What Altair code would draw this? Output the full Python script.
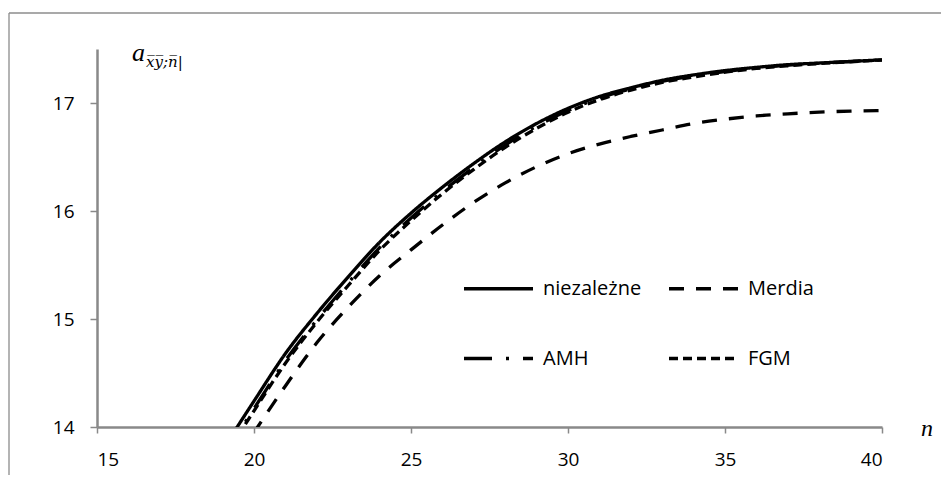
import altair as alt
import pandas as pd

# ---- data ----
n_values = list(range(19, 41))
niezalezne = [13.79, 14.24, 14.68, 15.05, 15.39, 15.71, 15.98, 16.22, 16.44, 16.64, 16.81,
              16.95, 17.06, 17.14, 17.21, 17.26, 17.30, 17.33, 17.355, 17.37, 17.385, 17.40]
merdia = [13.52, 13.95, 14.38, 14.78, 15.11, 15.40, 15.64, 15.87, 16.08, 16.26, 16.41,
          16.53, 16.62, 16.69, 16.75, 16.81, 16.85, 16.88, 16.90, 16.915, 16.925, 16.93]
amh = [13.72, 14.17, 14.615, 14.99, 15.335, 15.66, 15.935, 16.18, 16.405, 16.61, 16.785,
       16.93, 17.045, 17.13, 17.20, 17.25, 17.29, 17.325, 17.35, 17.368, 17.384, 17.40]
fgm = [13.70, 14.15, 14.59, 14.97, 15.31, 15.635, 15.91, 16.16, 16.385, 16.59, 16.765,
       16.915, 17.03, 17.12, 17.19, 17.24, 17.285, 17.32, 17.345, 17.365, 17.382, 17.398]

series_names = ["niezależne", "Merdia", "AMH", "FGM"]
series_values = [niezalezne, merdia, amh, fgm]
x_ticks = [15, 20, 25, 30, 35, 40]
y_ticks = [14, 15, 16, 17]

rows = []
for name, vals in zip(series_names, series_values):
    for n, v in zip(n_values, vals):
        rows.append({"n": n, "value": v, "series": name})
df = pd.DataFrame(rows)

AXIS_GRAY = "#898989"
FONT = "Open Sans"

lines = alt.Chart(df).mark_line(
    clip=True, strokeWidth=3.3, color="black", interpolate="monotone"
).encode(
    x=alt.X("n:Q", scale=alt.Scale(domain=[15, 40], nice=False, zero=False),
            axis=alt.Axis(values=x_ticks, title=None, grid=False, domainColor=AXIS_GRAY,
                          domainWidth=2.5, tickColor=AXIS_GRAY, tickWidth=1.5, tickSize=6,
                          labelFont=FONT, labelFontSize=19, labelColor="black",
                          labelPadding=17)),
    y=alt.Y("value:Q", scale=alt.Scale(domain=[14, 17.5], nice=False, zero=False),
            axis=alt.Axis(values=y_ticks, title=None, grid=False, domainColor=AXIS_GRAY,
                          domainWidth=2.5, tickColor=AXIS_GRAY, tickWidth=1.5, tickSize=7,
                          labelFont=FONT, labelFontSize=19, labelColor="black",
                          labelPadding=16)),
    strokeDash=alt.StrokeDash(
        "series:N",
        scale=alt.Scale(domain=series_names,
                        range=[[1, 0], [15, 12], [28, 14, 3, 14], [9, 5]]),
        legend=alt.Legend(orient="none", legendX=365, legendY=203, columns=2,
                          direction="horizontal",
                          title=None, symbolType="stroke", symbolSize=4761,
                          symbolStrokeWidth=3.3, symbolStrokeColor="black",
                          labelFont=FONT, labelFontSize=20, labelColor="black",
                          labelOffset=8, columnPadding=20, rowPadding=23, padding=0)),
)

one = pd.DataFrame({"k": [0]})

frame_left = alt.Chart(one).mark_rule(color="#8c8c8c", strokeWidth=1.3).encode(
    x=alt.value(-88), y=alt.value(-36), y2=alt.value(480))
frame_top = alt.Chart(one).mark_rule(color="#8c8c8c", strokeWidth=1.3).encode(
    x=alt.value(-88), x2=alt.value(900), y=alt.value(-36))

a_main = alt.Chart(one).mark_text(
    text="a", font="Liberation Serif", fontStyle="italic", fontSize=26,
    align="left", baseline="alphabetic", color="black").encode(
    x=alt.value(35), y=alt.value(12))
a_sub = alt.Chart(one).mark_text(
    text="x\u0305y\u0305;n\u0305|", font="DejaVu Serif", fontStyle="italic", fontSize=15,
    align="left", baseline="alphabetic", color="black").encode(
    x=alt.value(49), y=alt.value(18))
n_label = alt.Chart(one).mark_text(
    text="n", font="Liberation Serif", fontStyle="italic", fontSize=24,
    align="center", baseline="middle", color="black").encode(
    x=alt.value(830), y=alt.value(380))

chart = alt.layer(frame_left, frame_top, lines, a_main, a_sub, n_label).properties(
    width=785, height=378,
    autosize=alt.AutoSizeParams(type="none"),
    padding={"left": 89, "top": 41, "right": 59, "bottom": 48},
    background="white",
).configure_view(stroke=None)

chart.save("out.html", embed_options={"renderer": "svg", "actions": False})
